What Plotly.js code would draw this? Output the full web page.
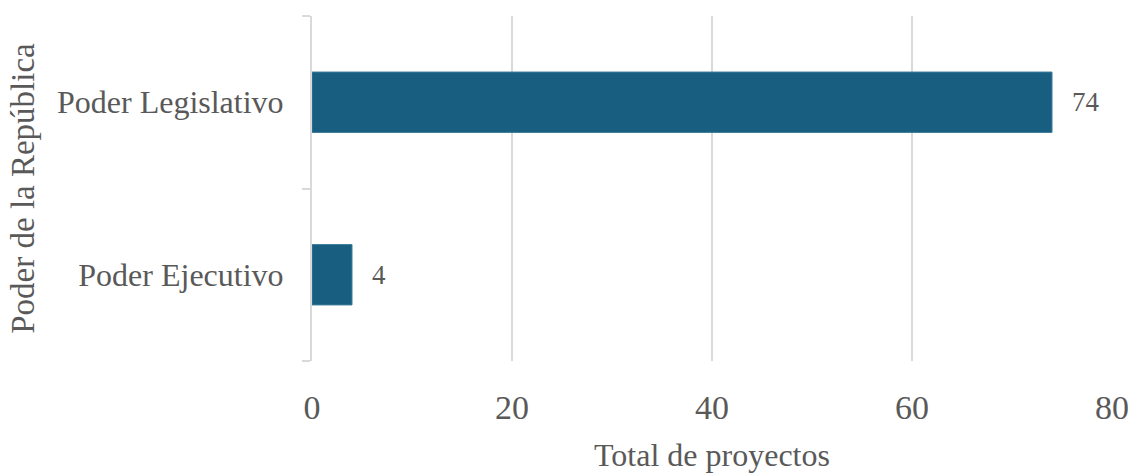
<!DOCTYPE html>
<html>
<head>
<meta charset="utf-8">
<script src="https://cdn.plot.ly/plotly-3.0.1.min.js"></script>
<style>
  html, body { margin: 0; padding: 0; background: #fff; }
  #grafico { width: 1130px; height: 473px; }
</style>
</head>
<body>
<div id="grafico"></div>
<script>
// datos del grafico
const poderes = ['Poder Ejecutivo', 'Poder Legislativo'];
const proyectos = [4, 74];
const ticksX = [0, 20, 40, 60, 80];

const fuente = 'Liberation Serif, DejaVu Serif, serif';
const gris = '#595959';

const trazas = [{
  type: 'bar',
  orientation: 'h',
  x: proyectos,
  y: poderes,
  marker: { color: '#175e80', line: { color: '#3f7d9a', width: 1 } },
  width: 0.35,
  hoverinfo: 'x+y'
}];

// etiquetas de valor a la derecha de cada barra
const etiquetas = poderes.map((p, i) => ({
  x: proyectos[i],
  y: p,
  text: String(proyectos[i]),
  showarrow: false,
  xanchor: 'left',
  xshift: 18,
  font: { family: fuente, size: 27, color: gris }
}));

Plotly.newPlot('grafico', trazas, {
  width: 1130,
  height: 473,
  margin: { l: 312, r: 18, t: 16, b: 112 },
  paper_bgcolor: '#fff',
  plot_bgcolor: '#fff',
  showlegend: false,
  font: { family: fuente, color: gris },
  xaxis: {
    range: [0, 80],
    tickvals: ticksX,
    ticktext: ticksX.map(String),
    showgrid: true,
    gridcolor: '#d9d9d9',
    gridwidth: 2,
    zeroline: false,
    showline: false,
    ticks: '',
    ticklabelstandoff: 23,
    tickfont: { family: fuente, size: 34, color: gris },
    title: { text: 'Total de proyectos', font: { family: fuente, size: 32, color: gris }, standoff: 20 }
  },
  yaxis: {
    showgrid: false,
    zeroline: false,
    showline: true,
    linecolor: '#d9d9d9',
    linewidth: 2,
    ticks: 'outside',
    tickson: 'boundaries',
    ticklen: 8,
    tickwidth: 2,
    tickcolor: '#d9d9d9',
    ticklabelstandoff: 20,
    tickfont: { family: fuente, size: 32, color: gris },
    title: { text: 'Poder de la República', font: { family: fuente, size: 33, color: gris }, standoff: 12 }
  },
  annotations: etiquetas
}, { displayModeBar: false });
</script>
</body>
</html>
